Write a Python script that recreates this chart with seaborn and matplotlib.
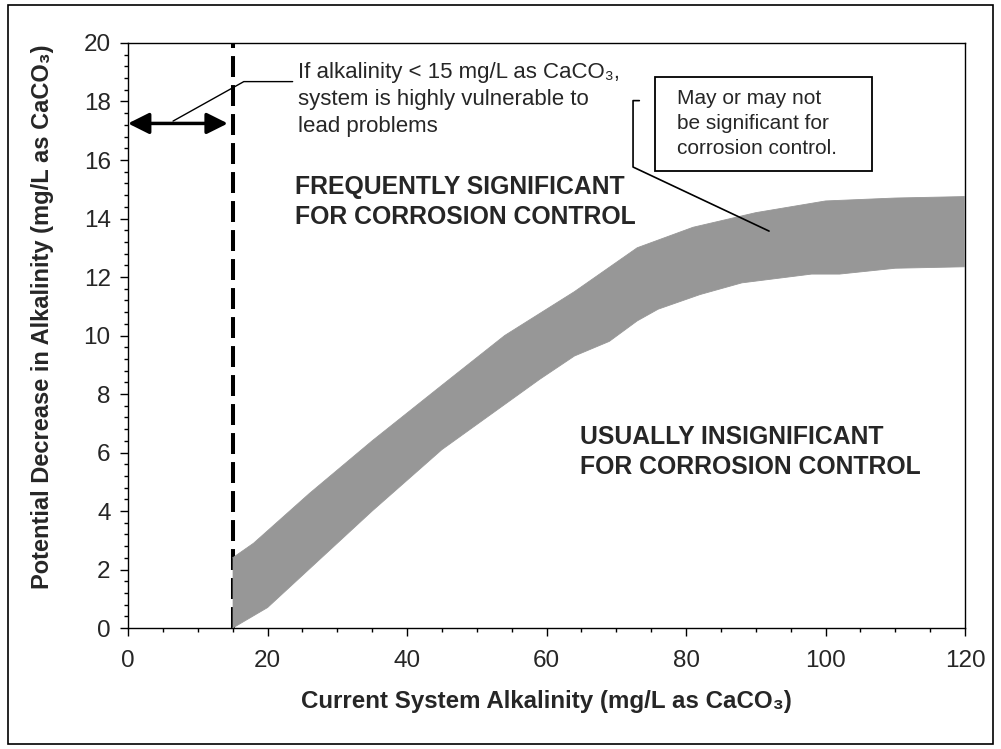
import matplotlib
matplotlib.use('Agg')

import matplotlib.pyplot as plt
import seaborn as sns
import numpy as np
import pandas as pd
from matplotlib.patches import Rectangle
from matplotlib.ticker import MultipleLocator

# band edges (mg/L as CaCO3)
upper_x = [15, 18, 26, 35, 45, 54, 64, 73, 81, 90, 100, 110, 120]
upper_y = [2.4, 2.9, 4.6, 6.4, 8.3, 10.0, 11.5, 13.0, 13.7, 14.2, 14.6, 14.7, 14.75]
lower_x = [15, 20, 35, 45, 52, 59, 64, 69, 73, 76, 82, 88, 98, 102, 110, 120]
lower_y = [0, 0.7, 4.0, 6.1, 7.3, 8.5, 9.3, 9.8, 10.5, 10.9, 11.4, 11.8, 12.1, 12.1, 12.3, 12.35]

threshold = 15

sns.set_style('ticks')
plt.rcParams['font.family'] = ['Liberation Sans', 'DejaVu Sans']

fig = plt.figure(figsize=(10.01, 7.49), dpi=100)
ax = fig.add_axes([0.1279, 0.1615, 0.8362, 0.7811])

band = pd.DataFrame({
    'x': np.r_[upper_x, lower_x[::-1]],
    'y': np.r_[upper_y, lower_y[::-1]],
})
ax.fill(band['x'], band['y'], color='#979797', lw=0, zorder=3)
edges = pd.concat([
    pd.DataFrame({'x': upper_x, 'y': upper_y, 'edge': 'upper'}),
    pd.DataFrame({'x': lower_x, 'y': lower_y, 'edge': 'lower'}),
])
sns.lineplot(data=edges, x='x', y='y', units='edge', estimator=None, sort=False,
             color='#979797', lw=0.6, ax=ax, zorder=3)

ax.axvline(threshold, color='black', lw=2.9, dashes=(5.2, 2.0), zorder=2)

ax.set_xlim(0, 120)
ax.set_ylim(0, 20)
ax.xaxis.set_major_locator(MultipleLocator(20))
ax.xaxis.set_minor_locator(MultipleLocator(5))
ax.yaxis.set_major_locator(MultipleLocator(2))
ax.yaxis.set_minor_locator(MultipleLocator(0.4))
ax.tick_params(which='major', direction='out', length=5.5, width=1, labelsize=17.5, color='black', pad=7)
ax.tick_params(axis='x', which='major', pad=10)
ax.tick_params(which='minor', direction='out', length=3, width=1, color='black')
for s in ax.spines.values():
    s.set_color('black')
    s.set_linewidth(1)
    s.set_visible(True)

ax.set_xlabel('Current System Alkalinity (mg/L as CaCO\u2083)', fontsize=17.4, fontweight='bold', labelpad=13)
ax.set_ylabel('Potential Decrease in Alkalinity (mg/L as CaCO\u2083)', fontsize=17, fontweight='bold')
ax.yaxis.set_label_coords(-0.089, 0.532)

# low-alkalinity arrow and note
ax.annotate('', xy=(0, 17.25), xytext=(14.3, 17.25),
            arrowprops=dict(arrowstyle='<|-|>,head_length=0.8,head_width=0.4', lw=2.5,
                            color='black', mutation_scale=16, shrinkA=0, shrinkB=0),
            annotation_clip=False, zorder=4)
ax.plot([6.45, 16.6, 23.6], [17.33, 18.68, 18.68], color='black', lw=1, zorder=4)
ax.text(24.4, 18.07, 'If alkalinity < 15 mg/L as CaCO\u2083,\nsystem is highly vulnerable to\nlead problems',
        fontsize=16, va='center', ha='left', linespacing=1.36)

ax.text(23.9, 14.56, 'FREQUENTLY SIGNIFICANT\nFOR CORROSION CONTROL', fontsize=17.8,
        fontweight='bold', va='center', ha='left', linespacing=1.3)
ax.text(64.8, 6.02, 'USUALLY INSIGNIFICANT\nFOR CORROSION CONTROL', fontsize=17.8,
        fontweight='bold', va='center', ha='left', linespacing=1.3)

# callout box for the band
ax.add_patch(Rectangle((75.56, 15.62), 31.1, 3.21, facecolor='white', edgecolor='black',
                       lw=1.3, zorder=5, clip_on=False))
ax.text(78.7, 17.25, 'May or may not\nbe significant for\ncorrosion control.', fontsize=15,
        va='center', ha='left', linespacing=1.4, zorder=6)
ax.plot([73.3, 72.4, 72.4, 91.9], [18.03, 18.03, 15.76, 13.57], color='black', lw=1.2, zorder=5)

fig.patches.append(Rectangle((8 / 1001, 5 / 749), 985 / 1001, 739 / 749, transform=fig.transFigure,
                             fill=False, edgecolor='black', lw=1.2))

fig.savefig('out.png', dpi=100)
plt.close(fig)
